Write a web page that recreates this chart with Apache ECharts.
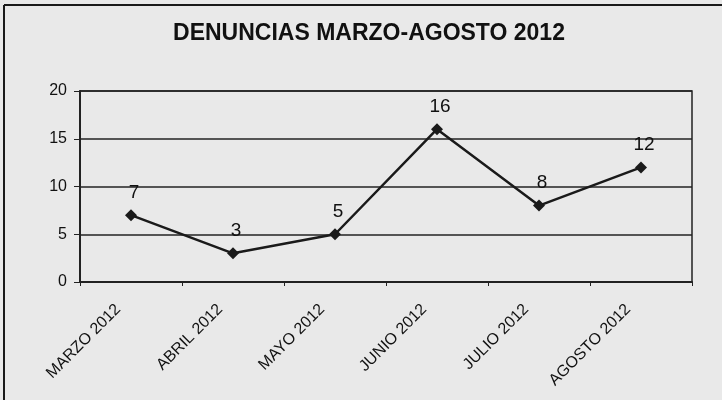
<!DOCTYPE html>
<html lang="es">
<head>
    <meta charset="utf-8">
    <title>Denuncias marzo-agosto 2012</title>
    <script src="https://cdn.jsdelivr.net/npm/echarts@6/dist/echarts.min.js"></script>
    <style>
        html, body { margin: 0; padding: 0; background: #e9e9e9; }
        #chart { width: 722px; height: 400px; }
    </style>
</head>
<body>
<div id="chart"></div>
<script type="text/javascript">
    // datos
    var meses = ['MARZO 2012', 'ABRIL 2012', 'MAYO 2012', 'JUNIO 2012', 'JULIO 2012', 'AGOSTO 2012'];
    var denuncias = [7, 3, 5, 16, 8, 12];
    var ejeY = [0, 5, 10, 15, 20];

    var chart = echarts.init(document.getElementById('chart'));
    var fuente = '"Liberation Sans", Arial, sans-serif';

    chart.setOption({
        backgroundColor: '#e9e9e9',
        animation: false,
        title: {
            text: 'DENUNCIAS MARZO-AGOSTO 2012',
            left: 364,
            top: 17,
            textAlign: 'center',
            textStyle: { fontFamily: fuente, fontSize: 23, fontWeight: 'bold', color: '#111' }
        },
        grid: { left: 80, right: 30, top: 91, bottom: 118, show: true, borderColor: '#222', borderWidth: 1.5, backgroundColor: '#e9e9e9' },
        xAxis: {
            type: 'category',
            data: meses,
            boundaryGap: true,
            axisLine: { lineStyle: { color: '#222', width: 2 } },
            axisTick: { show: true, inside: false, length: 4, lineStyle: { color: '#222' } },
            axisLabel: {
                rotate: 45,
                interval: 0,
                margin: 12,
                padding: [0, 18, 0, 0],
                fontFamily: fuente,
                fontSize: 16,
                color: '#111'
            }
        },
        yAxis: {
            type: 'value',
            min: ejeY[0],
            max: ejeY[ejeY.length - 1],
            interval: 5,
            axisLine: { show: true, lineStyle: { color: '#222', width: 2 } },
            axisTick: { show: true, length: 6, lineStyle: { color: '#222' } },
            axisLabel: { margin: 13, fontFamily: fuente, fontSize: 16, color: '#111' },
            splitLine: { lineStyle: { color: '#222', width: 1.5 } }
        },
        series: [{
            type: 'line',
            data: denuncias,
            symbol: 'diamond',
            symbolSize: 12,
            itemStyle: { color: '#1a1a1a' },
            lineStyle: { color: '#1a1a1a', width: 2.5 },
            label: {
                show: true,
                position: 'top',
                distance: 7,
                offset: [3, 0],
                fontFamily: fuente,
                fontSize: 19,
                color: '#111'
            }
        }],
        graphic: [
            { type: 'line', shape: { x1: 4, y1: 5, x2: 722, y2: 5 }, style: { stroke: '#1a1a1a', lineWidth: 2 } },
            { type: 'line', shape: { x1: 4, y1: 5, x2: 4, y2: 400 }, style: { stroke: '#1a1a1a', lineWidth: 2 } }
        ]
    });
</script>
</body>
</html>
